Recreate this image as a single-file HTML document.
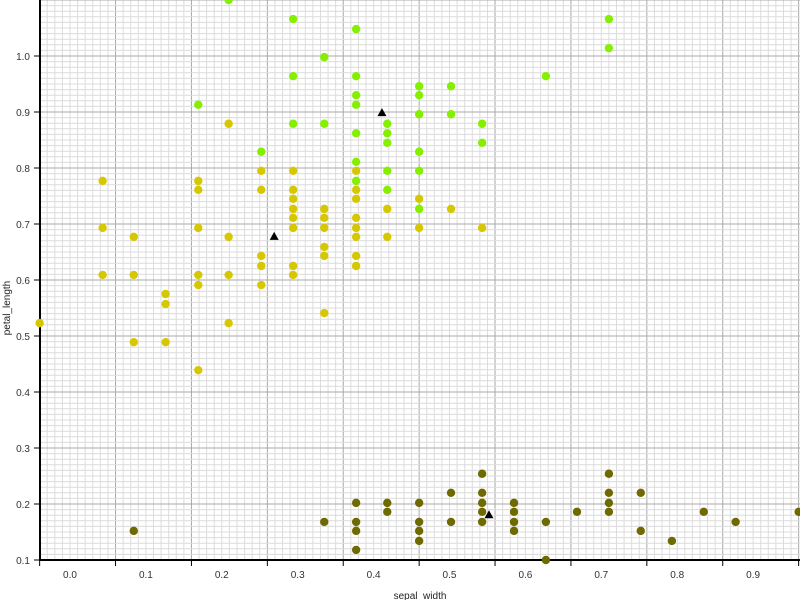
<!DOCTYPE html>
<html><head><meta charset="utf-8"><style>
html,body{margin:0;padding:0;background:#fff;width:800px;height:600px;overflow:hidden}
svg{display:block;font-family:"Liberation Sans",sans-serif}
</style></head><body>
<svg id="chart" width="800" height="600" viewBox="0 0 800 600">
<g id="grid"></g>
<g id="axes"></g>
<g id="marks"></g>
<text x="10" y="308" font-size="10" text-anchor="middle" transform="rotate(-90 10 308)" fill="#222">petal_length</text>
<text x="420" y="599" font-size="10" text-anchor="middle" fill="#222">sepal_width</text>
</svg>
<script>
const xTickLabels=["0.0","0.1","0.2","0.3","0.4","0.5","0.6","0.7","0.8","0.9"];
const yTickLabels=["0.1","0.2","0.3","0.4","0.5","0.6","0.7","0.8","0.9","1.0"];
const greenX=[0.169,0.209,0.252,0.294,0.294,0.294,0.335,0.335,0.377,0.377,0.377,0.377,0.377,0.377,0.377,0.418,0.418,0.418,0.418,0.418,0.460,0.460,0.460,0.460,0.460,0.460,0.502,0.502,0.543,0.543,0.627,0.710,0.710];
const greenY=[0.913,1.100,0.829,1.066,0.964,0.879,0.998,0.879,1.048,0.964,0.930,0.913,0.862,0.811,0.777,0.879,0.862,0.845,0.795,0.761,0.946,0.930,0.896,0.829,0.795,0.727,0.946,0.896,0.879,0.845,0.964,1.066,1.014];
const yellowX=[-0.040,0.043,0.043,0.043,0.084,0.084,0.084,0.126,0.126,0.126,0.169,0.169,0.169,0.169,0.169,0.169,0.209,0.209,0.209,0.209,0.252,0.252,0.252,0.252,0.252,0.294,0.294,0.294,0.294,0.294,0.294,0.294,0.294,0.335,0.335,0.335,0.335,0.335,0.335,0.377,0.377,0.377,0.377,0.377,0.377,0.377,0.377,0.418,0.418,0.460,0.460,0.502,0.543];
const yellowY=[0.523,0.777,0.693,0.609,0.677,0.609,0.489,0.575,0.557,0.489,0.777,0.761,0.693,0.609,0.591,0.439,0.879,0.677,0.609,0.523,0.795,0.761,0.643,0.625,0.591,0.795,0.761,0.745,0.727,0.711,0.693,0.625,0.609,0.727,0.711,0.693,0.659,0.643,0.541,0.795,0.761,0.745,0.711,0.693,0.677,0.643,0.625,0.727,0.677,0.745,0.693,0.727,0.693];
const oliveX=[0.084,0.335,0.377,0.377,0.377,0.377,0.418,0.418,0.460,0.460,0.460,0.460,0.502,0.502,0.543,0.543,0.543,0.543,0.543,0.585,0.585,0.585,0.585,0.627,0.627,0.668,0.710,0.710,0.710,0.710,0.752,0.752,0.793,0.835,0.877,0.960];
const oliveY=[0.152,0.168,0.202,0.168,0.152,0.118,0.202,0.186,0.202,0.168,0.152,0.134,0.220,0.168,0.254,0.220,0.202,0.186,0.168,0.202,0.186,0.168,0.152,0.168,0.100,0.186,0.254,0.220,0.202,0.186,0.220,0.152,0.134,0.186,0.168,0.186];
const centroidX=[0.269,0.411,0.552];
const centroidY=[0.677,0.898,0.180];

const NS="http://www.w3.org/2000/svg";
const X0=40,X1=800,Y0=0,Y1=560;
function xs(v){return 70+v*759;}
function ys(v){return 560-(v-0.1)*560;}
function mk(tag,attrs,parent){const e=document.createElementNS(NS,tag);for(const k in attrs)e.setAttribute(k,attrs[k]);parent.appendChild(e);return e;}
const grid=document.getElementById('grid'),axes=document.getElementById('axes'),marks=document.getElementById('marks');
// minor grid
for(let i=0;i<=110;i++){const v=-0.04+i*0.01;const x=xs(v);if(x>X1+0.5)break;
 const l=mk('line',{x1:x,x2:x,y1:Y0,y2:Y1,stroke:i%10===0?'#a8a8a8':'#dcdcdc','stroke-width':1},grid);
 
 }
for(let i=0;i<=100;i++){const v=0.1+i*0.01;const y=ys(v);if(y<Y0-0.5)break;
 const l=mk('line',{x1:X0,x2:X1,y1:y,y2:y,stroke:i%10===0?'#a8a8a8':'#dcdcdc','stroke-width':1},grid);
 
 }
// axes
let a=mk('line',{x1:X0,x2:X0,y1:0,y2:Y1+1,stroke:'#000','stroke-width':2},axes);


a=mk('line',{x1:X0,x2:X1,y1:Y1,y2:Y1,stroke:'#000','stroke-width':2},axes);


for(let k=0;k<=10;k++){const x=xs(-0.04+k*0.1);
 const t=mk('line',{x1:x,x2:x,y1:Y1,y2:Y1+6,stroke:'#000','stroke-width':1},axes);
 
 }
xTickLabels.forEach((s,k)=>{const t=mk('text',{x:xs(k*0.1),y:578,'font-size':10,'text-anchor':'middle',fill:'#333'},axes);t.textContent=s;
 
 });
yTickLabels.forEach((s,k)=>{const y=ys(0.1+k*0.1);
 const t=mk('line',{x1:X0-6,x2:X0,y1:y,y2:y,stroke:'#000','stroke-width':1},axes);
 
 
 const tx=mk('text',{x:30,y:y+4,'font-size':10,'text-anchor':'end',fill:'#333'},axes);tx.textContent=s;
 
 });
function pts(xsArr,ysArr,color,name){for(let i=0;i<xsArr.length;i++){
 const c=mk('circle',{cx:xs(xsArr[i]),cy:ys(ysArr[i]),r:4.2,fill:color},marks);
 
 }}
pts(yellowX,yellowY,'#d6c800','point-versicolor');
pts(greenX,greenY,'#84f000','point-virginica');
pts(oliveX,oliveY,'#6e6a00','point-setosa');
for(let i=0;i<centroidX.length;i++){const x=xs(centroidX[i]),y=ys(centroidY[i]);
 const p=mk('polygon',{points:`${x},${y-5} ${x-4.5},${y+3} ${x+4.5},${y+3}`,fill:'#000'},marks);
 
 }
</script>
</body></html>
